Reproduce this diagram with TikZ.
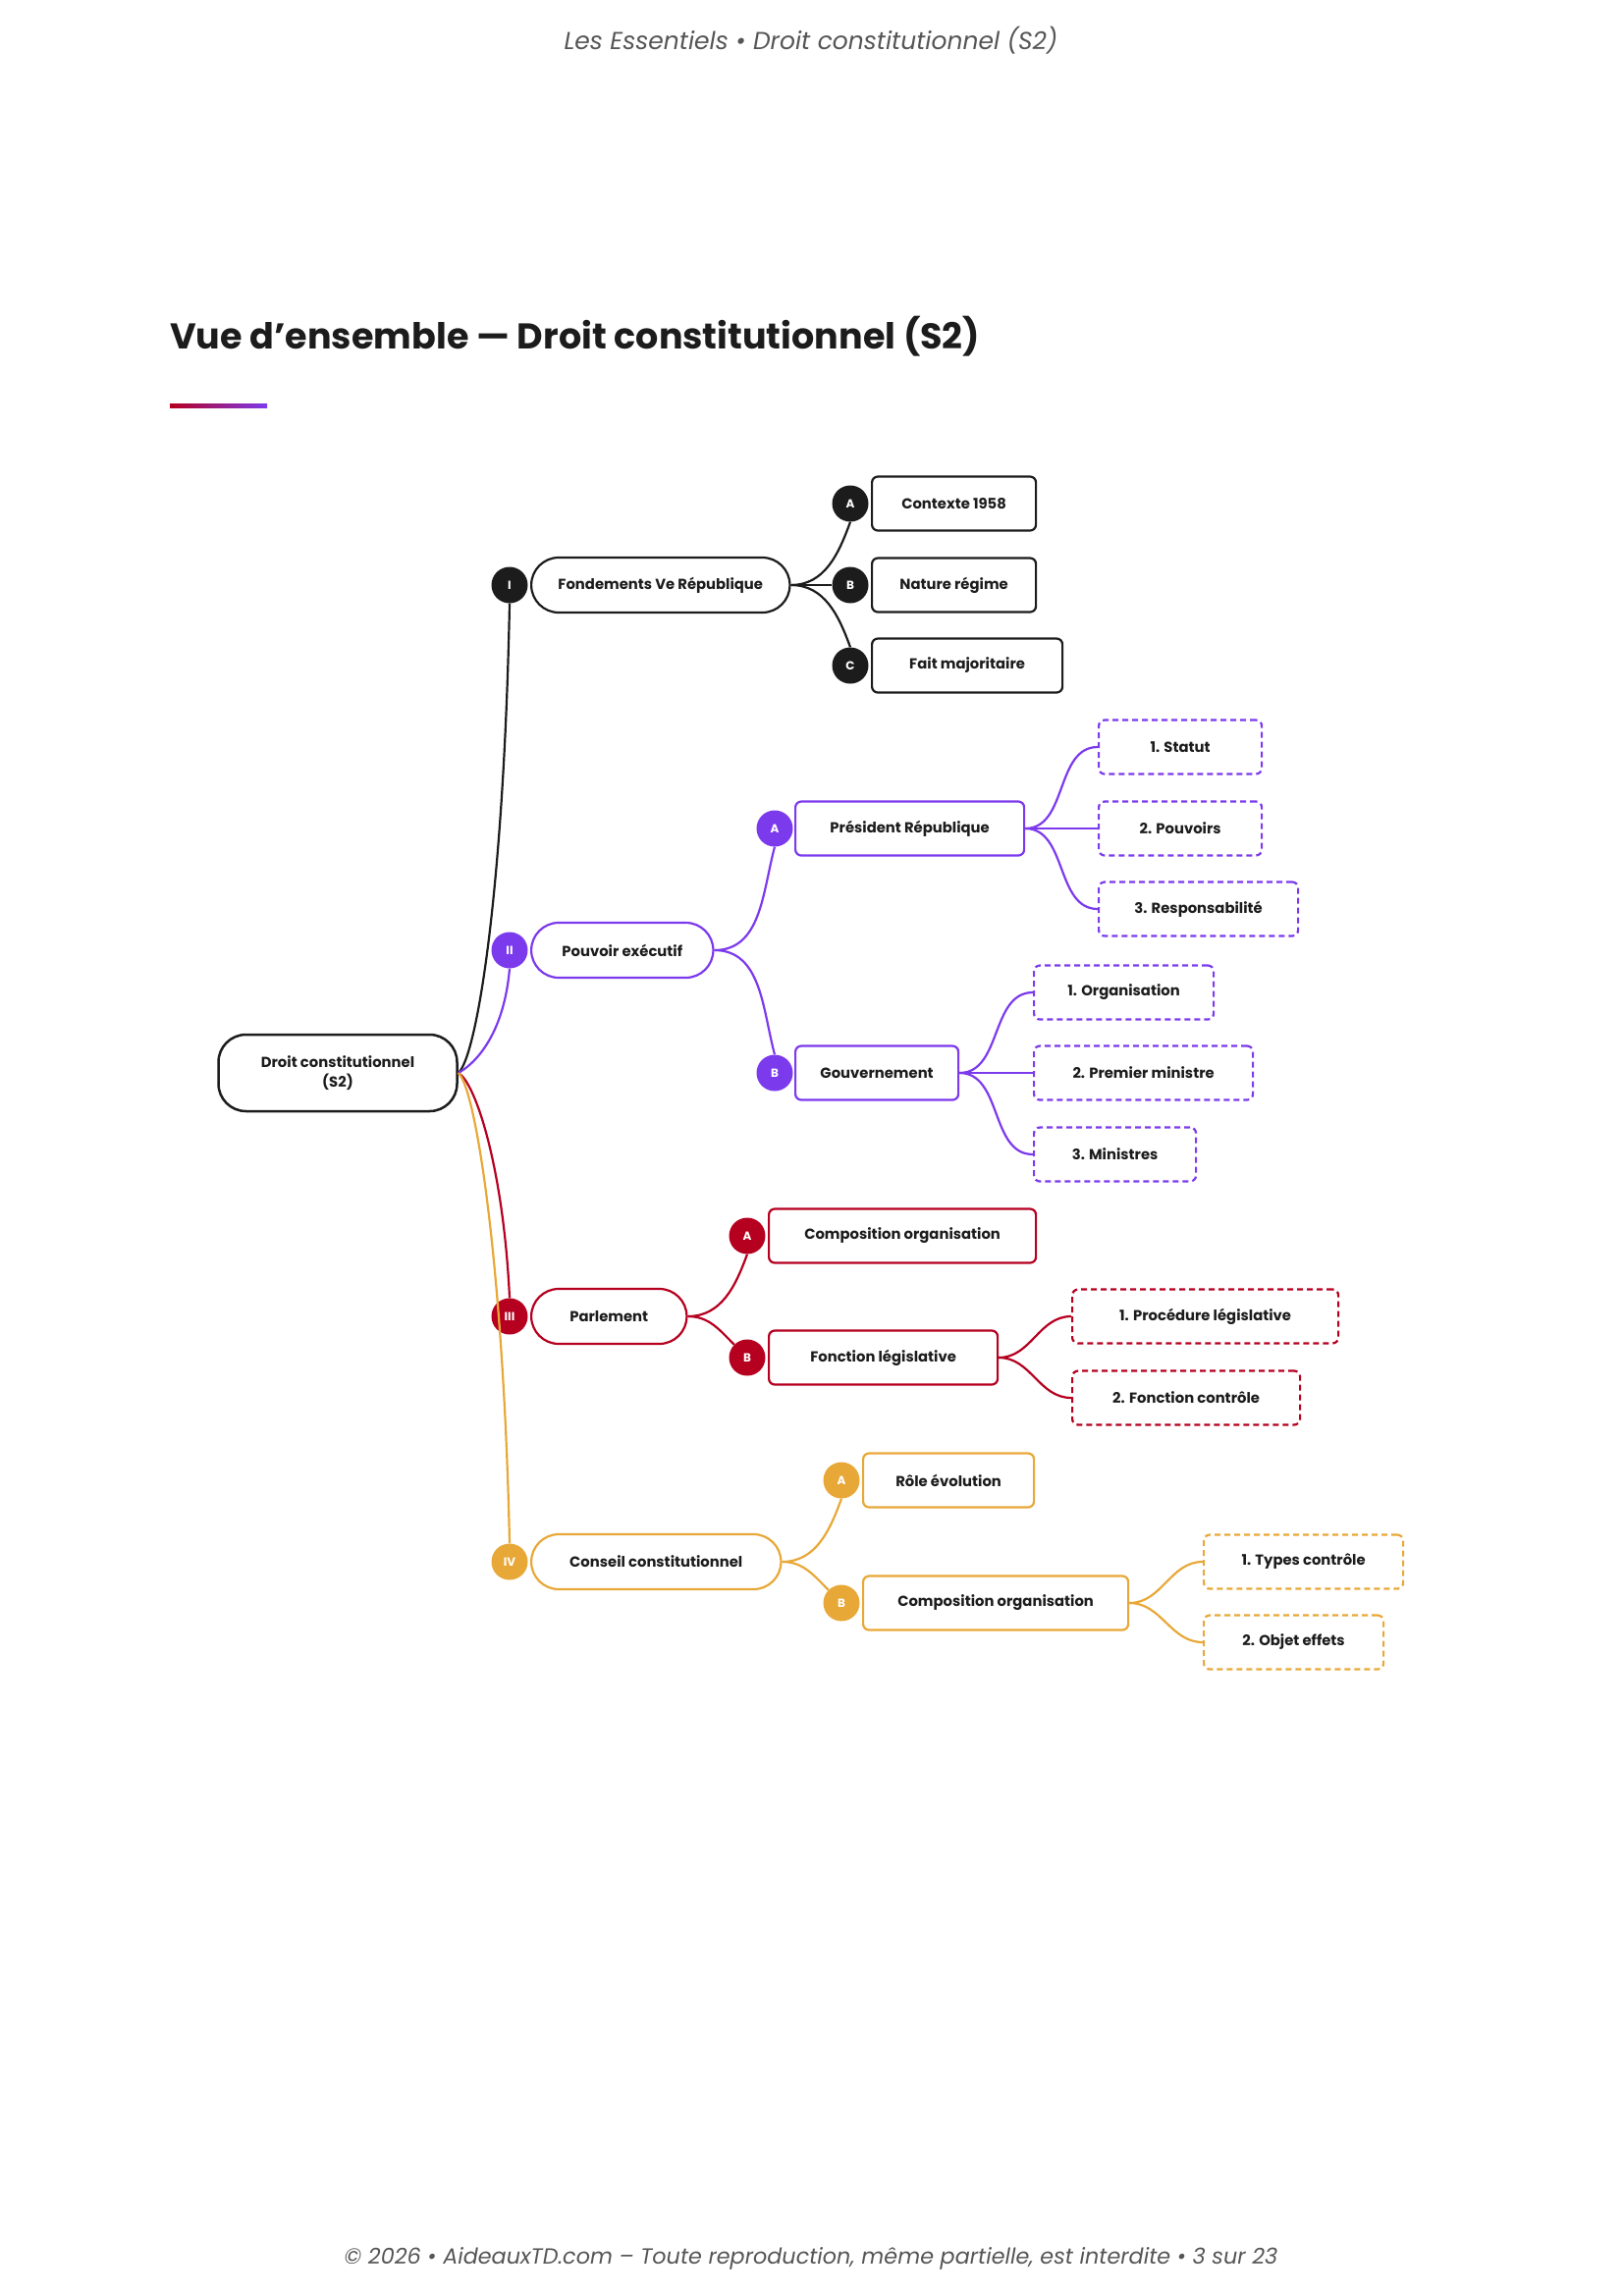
\documentclass[tikz,border=0pt]{standalone}
\usepackage{fontspec}
\setmainfont{Poppins}
\usetikzlibrary{shapes.misc}
\definecolor{cK}{HTML}{1C1C1C}
\definecolor{cP}{HTML}{7C3AED}
\definecolor{cR}{HTML}{B5001F}
\definecolor{cO}{HTML}{E8A838}
\definecolor{cG}{HTML}{555555}
\begin{document}
\begin{tikzpicture}[x=1pt,y=-1pt,
  txt/.style={font=\fontsize{14.8}{20}\selectfont\bfseries, text=cK},
  pill/.style={txt, draw=#1, line width=2.2pt, rounded rectangle, minimum height=56pt, anchor=west, fill=white},
  box/.style={txt, draw=#1, line width=2.2pt, rounded corners=6pt, minimum height=55pt, anchor=west, fill=white},
  dbox/.style={txt, draw=#1, line width=2.2pt, dashed, dash pattern=on 6pt off 4pt, rounded corners=6pt, minimum height=55pt, anchor=west, fill=white},
  badge/.style={circle, fill=#1, minimum size=37pt, inner sep=0pt, text=white, font=\fontsize{12}{12}\selectfont\bfseries},
  ln/.style={draw=#1, line width=2.2pt}]
\useasboundingbox (0,0) rectangle (1653,2339);
\node[font=\fontsize{25}{28}\selectfont\itshape, text=cG] (hdr) at (826,41) {Les Essentiels • Droit constitutionnel (S2)};
\node[font=\fontsize{22.3}{26}\selectfont\itshape, text=cG] (ftr) at (826,2301) {© 2026 • AideauxTD.com – Toute reproduction, même partielle, est interdite • 3 sur 23};
\node[font=\fontsize{36.5}{40}\selectfont\bfseries, text=cK, anchor=west, inner sep=0pt] (title) at (173,343) {Vue d'ensemble — Droit constitutionnel (S2)};
\shade[left color=cR, right color=cP] (173,411) rectangle (272,415);
\begin{scope}[shift={(-6,-7)}]
% root
\node[txt, draw=cK, line width=2.5pt, rounded corners=28pt, minimum width=243pt, minimum height=78pt, align=center] (root) at (350,1100) {Droit constitutionnel\\(S2)};
% level 1
\node[pill=cK, minimum width=270pt] (p1) at (546,603) {Fondements Ve République};
\node[pill=cP, minimum width=192pt] (p2) at (546,975) {Pouvoir exécutif};
\node[pill=cR, minimum width=165pt] (p3) at (546,1348) {Parlement};
\node[pill=cO, minimum width=261pt] (p4) at (546,1598) {Conseil constitutionnel};
\node[badge=cK] (b1) at (525,603) {I};
\node[badge=cP] (b2) at (525,975) {II};
\node[badge=cR] (b3) at (525,1348) {III};
\node[badge=cO] (b4) at (525,1598) {IV};
\draw[ln=cK] (root.east) .. controls +(18,-15) and +(-6,300) .. (b1.south);
\draw[ln=cP] (root.east) .. controls +(15,-8) and +(-6,70) .. (b2.south);
\draw[ln=cR] (root.east) .. controls +(18,10) and +(-6,-130) .. (b3.north);
\draw[ln=cO] (root.east) .. controls +(18,15) and +(-6,-280) .. (b4.north);
% level 2
\node[box=cK, minimum width=167pt] (r1a) at (893,520) {Contexte 1958};
\node[box=cK, minimum width=167pt] (r1b) at (893,603) {Nature régime};
\node[box=cK, minimum width=194pt] (r1c) at (893,685) {Fait majoritaire};
\node[box=cP, minimum width=233pt] (r2a) at (815,851) {Président République};
\node[box=cP, minimum width=166pt] (r2b) at (815,1100) {Gouvernement};
\node[box=cR, minimum width=272pt] (r3a) at (788,1266) {Composition organisation};
\node[box=cR, minimum width=233pt] (r3b) at (788,1390) {Fonction législative};
\node[box=cO, minimum width=174pt] (r4a) at (884,1515) {Rôle évolution};
\node[box=cO, minimum width=270pt] (r4b) at (884,1640) {Composition organisation};
\node[badge=cK] (c1a) at (872,520) {A};
\node[badge=cK] (c1b) at (872,603) {B};
\node[badge=cK] (c1c) at (872,685) {C};
\node[badge=cP] (c2a) at (795,851) {A};
\node[badge=cP] (c2b) at (795,1100) {B};
\node[badge=cR] (c3a) at (767,1266) {A};
\node[badge=cR] (c3b) at (767,1390) {B};
\node[badge=cO] (c4a) at (863,1515) {A};
\node[badge=cO] (c4b) at (863,1640) {B};
\draw[ln=cK] (p1.east) to[out=0,in=-110] (c1a.south);
\draw[ln=cK] (p1.east) -- (c1b.west);
\draw[ln=cK] (p1.east) to[out=0,in=110] (c1c.north);
\draw[ln=cP] (p2.east) to[out=0,in=-105] (c2a.south);
\draw[ln=cP] (p2.east) to[out=0,in=105] (c2b.north);
\draw[ln=cR] (p3.east) to[out=0,in=-110] (c3a.south);
\draw[ln=cR] (p3.east) to[out=0,in=135] (c3b.north west);
\draw[ln=cO] (p4.east) to[out=0,in=-110] (c4a.south);
\draw[ln=cO] (p4.east) to[out=0,in=135] (c4b.north west);
% level 3
\node[dbox=cP, minimum width=166pt] (d1) at (1124,768) {1. Statut};
\node[dbox=cP, minimum width=166pt] (d2) at (1124,851) {2. Pouvoirs};
\node[dbox=cP, minimum width=203pt] (d3) at (1124,933) {3. Responsabilité};
\node[dbox=cP, minimum width=183pt] (d4) at (1058,1018) {1. Organisation};
\node[dbox=cP, minimum width=223pt] (d5) at (1058,1100) {2. Premier ministre};
\node[dbox=cP, minimum width=165pt] (d6) at (1058,1183) {3. Ministres};
\node[dbox=cR, minimum width=271pt] (d7) at (1097,1348) {1. Procédure législative};
\node[dbox=cR, minimum width=232pt] (d8) at (1097,1431) {2. Fonction contrôle};
\node[dbox=cO, minimum width=203pt] (d9) at (1231,1598) {1. Types contrôle};
\node[dbox=cO, minimum width=183pt] (d10) at (1231,1680) {2. Objet effets};
\foreach \p/\c/\col in {r2a/d1/cP,r2a/d2/cP,r2a/d3/cP,r2b/d4/cP,r2b/d5/cP,r2b/d6/cP,r3b/d7/cR,r3b/d8/cR,r4b/d9/cO,r4b/d10/cO}
  \draw[ln=\col] (\p.east) to[out=0,in=180] (\c.west);
\end{scope}
\end{tikzpicture}
\end{document}
